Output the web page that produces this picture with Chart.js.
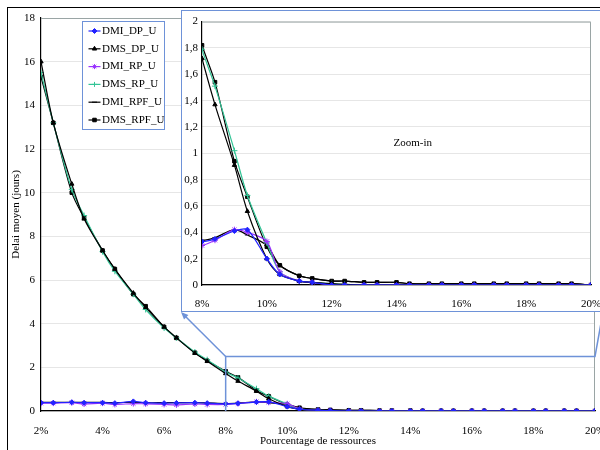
<!DOCTYPE html>
<html>
<head>
<meta charset="utf-8">
<script src="https://cdn.jsdelivr.net/npm/chart.js@4/dist/chart.umd.min.js"></script>
<style>
body { margin: 0; width: 600px; height: 450px; overflow: hidden; background: #fff; position: relative; }
#frame { position: absolute; left: 7px; top: 7px; width: 640px; height: 480px; border: 1.5px solid #000; }
#main { position: absolute; left: 0; top: 0; }
#zoomBox { position: absolute; left: 181px; top: 10px; width: 420px; height: 300px; border: 1.5px solid #6e92d8; background: #fff; overflow: hidden; }
#inset { position: absolute; left: 0; top: 0; }
</style>
</head>
<body>
<div id="frame"></div>
<canvas id="main" width="620" height="450"></canvas>
<div id="zoomBox"><canvas id="inset" width="440" height="300"></canvas></div>
<script>
// pourcentage de ressources
const xs = [2, 2.4, 3, 3.4, 4, 4.4, 5, 5.4, 6, 6.4, 7, 7.4, 8, 8.4, 9, 9.4, 10, 10.4, 11, 11.4,
            12, 12.4, 13, 13.4, 14, 14.4, 15, 15.4, 16, 16.4, 17, 17.4, 18, 18.4, 19, 19.4, 20];

const dmiDP  = [0.38, 0.38, 0.40, 0.38, 0.38, 0.36, 0.44, 0.38, 0.36, 0.37, 0.38, 0.36, 0.33, 0.35, 0.41, 0.42, 0.20, 0.08, 0.03, 0.02,
                0, 0, 0, 0, 0, 0, 0, 0, 0, 0, 0, 0, 0, 0, 0, 0, 0];
const dmsDP  = [16.0, 13.2, 10.4, 8.8, 7.35, 6.5, 5.4, 4.75, 3.85, 3.35, 2.65, 2.28, 1.72, 1.37, 0.91, 0.56, 0.20, 0.08, 0.03, 0.02,
                0.01, 0.005, 0, 0, 0, 0, 0, 0, 0, 0, 0, 0, 0, 0, 0, 0, 0];
const dmiRP  = [0.36, 0.36, 0.38, 0.32, 0.36, 0.30, 0.34, 0.33, 0.30, 0.28, 0.32, 0.30, 0.30, 0.34, 0.42, 0.40, 0.33, 0.10, 0.03, 0.02,
                0, 0, 0, 0, 0, 0, 0, 0, 0, 0, 0, 0, 0, 0, 0, 0, 0];
const dmsRP  = [15.5, 13.2, 10.15, 8.95, 7.3, 6.4, 5.35, 4.65, 3.8, 3.35, 2.7, 2.35, 1.79, 1.51, 1.02, 0.68, 0.32, 0.10, 0.03, 0.02,
                0.01, 0.005, 0, 0, 0, 0, 0, 0, 0, 0, 0, 0, 0, 0, 0, 0, 0];
const dmiRPF = [0.40, 0.40, 0.40, 0.40, 0.40, 0.38, 0.40, 0.38, 0.38, 0.38, 0.38, 0.37, 0.34, 0.36, 0.42, 0.38, 0.30, 0.15, 0.07, 0.05,
                0.03, 0.03, 0.02, 0.02, 0.02, 0.01, 0.01, 0.01, 0.01, 0.01, 0.01, 0.01, 0.01, 0.01, 0.01, 0.01, 0];
const dmsRPF = [15.3, 13.2, 10.0, 8.85, 7.35, 6.5, 5.35, 4.8, 3.85, 3.35, 2.67, 2.3, 1.82, 1.54, 0.94, 0.67, 0.29, 0.15, 0.07, 0.05,
                0.03, 0.03, 0.02, 0.02, 0.02, 0.01, 0.01, 0.01, 0.01, 0.01, 0.01, 0.01, 0.01, 0.01, 0.01, 0.01, 0];

const seriesNames  = ['DMI_DP_U', 'DMS_DP_U', 'DMI_RP_U', 'DMS_RP_U', 'DMI_RPF_U', 'DMS_RPF_U'];
const seriesValues = [dmiDP, dmsDP, dmiRP, dmsRP, dmiRPF, dmsRPF];
const seriesColors = ['#2222ff', '#000000', '#9933ff', '#33c496', '#000000', '#000000'];
const seriesMarks  = ['rectRot', 'triangle', 'star', 'cross', 'line', 'rect'];

// zone agrandie
const zoomRange = [8, 20];
const zoomTop = 2.5;

const serif = '"Liberation Serif", "Times New Roman", serif';
Chart.defaults.font.family = serif;
Chart.defaults.font.size = 11;
Chart.defaults.color = '#000';

function makeDatasets() {
  return seriesNames.map((name, i) => ({
    label: name,
    data: xs.map((x, j) => ({ x: x, y: seriesValues[i][j] })),
    borderColor: seriesColors[i],
    backgroundColor: seriesColors[i],
    pointBackgroundColor: seriesColors[i],
    pointBorderColor: seriesColors[i],
    pointStyle: seriesMarks[i],
    pointRadius: seriesMarks[i] == 'star' || seriesMarks[i] == 'cross' ? 3 : 2.5,
    pointBorderWidth: 1,
    borderWidth: 1.2,
    tension: 0.3,
    fill: false
  }));
}

// cadre gris haut/droite de la zone de tracé
const topRightFrame = {
  id: 'topRightFrame',
  beforeDatasetsDraw(chart) {
    const a = chart.chartArea, ctx = chart.ctx;
    ctx.save();
    ctx.strokeStyle = '#9aa5a5';
    ctx.lineWidth = 1;
    ctx.beginPath();
    ctx.moveTo(a.left, a.top + 0.5);
    ctx.lineTo(a.right - 0.5, a.top + 0.5);
    ctx.lineTo(a.right - 0.5, a.bottom);
    ctx.stroke();
    ctx.restore();
  }
};

const boxLegend = {
  id: 'boxLegend',
  afterDraw(chart) {
    const ctx = chart.ctx, a = chart.chartArea;
    const x0 = a.left + 41.5, y0 = a.top + 3.5, w = 82, h = 108;
    ctx.save();
    ctx.fillStyle = '#fff';
    ctx.fillRect(x0, y0, w, h);
    ctx.strokeStyle = '#6e92d8';
    ctx.lineWidth = 1;
    ctx.strokeRect(x0, y0, w, h);
    ctx.font = '11px ' + serif;
    ctx.textBaseline = 'middle';
    chart.data.datasets.forEach((ds, i) => {
      const y = y0 + 9.5 + i * 17.8;
      ctx.strokeStyle = ds.borderColor;
      ctx.fillStyle = ds.borderColor;
      ctx.lineWidth = 1.2;
      ctx.beginPath();
      ctx.moveTo(x0 + 6, y);
      ctx.lineTo(x0 + 18, y);
      ctx.stroke();
      ctx.lineWidth = 1;
      Chart.helpers.drawPoint(ctx, { pointStyle: ds.pointStyle, radius: 2.5, borderWidth: 1 }, x0 + 12, y);
      ctx.fillStyle = '#000';
      ctx.fillText(ds.label, x0 + 19.5, y);
    });
    ctx.restore();
  }
};

// rectangle de la zone agrandie + flèches vers l'encart
const callout = {
  id: 'callout',
  afterDatasetsDraw(chart) {
    const sx = chart.scales.x, sy = chart.scales.y, ctx = chart.ctx;
    const l = sx.getPixelForValue(zoomRange[0]), r = sx.getPixelForValue(zoomRange[1]);
    const t = sy.getPixelForValue(zoomTop), b = sy.getPixelForValue(0);
    const box = document.getElementById('zoomBox');
    const bl = box.offsetLeft, bb = box.offsetTop + box.offsetHeight, br = box.offsetLeft + box.offsetWidth;
    ctx.save();
    ctx.strokeStyle = '#6e92d8';
    ctx.fillStyle = '#6e92d8';
    ctx.lineWidth = 1.5;
    ctx.beginPath();
    ctx.moveTo(l, b);
    ctx.lineTo(l, t);
    ctx.lineTo(r, t);
    ctx.lineTo(br, bb);
    ctx.stroke();
    ctx.beginPath();
    ctx.moveTo(l, t);
    ctx.lineTo(bl + 2, bb + 2);
    ctx.stroke();
    const ang = Math.atan2(bb - t, bl - l);
    ctx.beginPath();
    ctx.moveTo(bl, bb);
    ctx.lineTo(bl - 8 * Math.cos(ang - 0.4), bb - 8 * Math.sin(ang - 0.4));
    ctx.lineTo(bl - 8 * Math.cos(ang + 0.4), bb - 8 * Math.sin(ang + 0.4));
    ctx.closePath();
    ctx.fill();
    ctx.restore();
  }
};

const zoomLabel = {
  id: 'zoomLabel',
  afterDatasetsDraw(chart) {
    const ctx = chart.ctx;
    ctx.save();
    ctx.font = '11px ' + serif;
    ctx.fillStyle = '#000';
    ctx.textAlign = 'center';
    ctx.textBaseline = 'middle';
    ctx.fillText('Zoom-in', chart.scales.x.getPixelForValue(14.5), chart.scales.y.getPixelForValue(1.08));
    ctx.restore();
  }
};

const commaLabel = v => String(Math.round(v * 10) / 10).replace('.', ',');
const pctLabel = v => Math.round(v) + '%';

new Chart(document.getElementById('main'), {
  type: 'line',
  data: { datasets: makeDatasets() },
  options: {
    responsive: false,
    animation: false,
    layout: { padding: { left: 10, top: 18, right: 25, bottom: 2 } },
    plugins: { legend: { display: false }, tooltip: { enabled: false } },
    scales: {
      x: {
        type: 'linear', min: 2, max: 20,
        ticks: { stepSize: 2, callback: pctLabel, padding: 6, maxRotation: 0 },
        grid: { display: false },
        border: { color: '#000', width: 1.2 },
        title: { display: true, text: 'Pourcentage de ressources', padding: { top: 3, bottom: 0 } },
        afterFit(s) { s.height = 37; }
      },
      y: {
        min: 0, max: 18,
        ticks: { stepSize: 2, padding: 6 },
        grid: { color: '#e6e6e6', drawTicks: false },
        border: { color: '#000', width: 1.2 },
        title: { display: true, text: 'Delai moyen (jours)', padding: { top: 0, bottom: 0 } },
        afterFit(s) { s.width = 31; }
      }
    }
  },
  plugins: [topRightFrame, callout, boxLegend]
});

new Chart(document.getElementById('inset'), {
  type: 'line',
  data: { datasets: makeDatasets() },
  options: {
    responsive: false,
    animation: false,
    layout: { padding: { left: 0, top: 9, right: 31, bottom: 0 } },
    plugins: { legend: { display: false }, tooltip: { enabled: false } },
    scales: {
      x: {
        type: 'linear', min: 8, max: 20,
        ticks: { stepSize: 2, callback: pctLabel, padding: 5, maxRotation: 0 },
        grid: { display: false },
        border: { color: '#000', width: 1.2 },
        afterFit(s) { s.height = 26; }
      },
      y: {
        min: 0, max: 2,
        ticks: { stepSize: 0.2, callback: commaLabel, padding: 4 },
        grid: { color: '#e6e6e6', drawTicks: false },
        border: { color: '#000', width: 1.2 },
        afterFit(s) { s.width = 20; }
      }
    }
  },
  plugins: [topRightFrame, zoomLabel]
});
</script>
</body>
</html>
